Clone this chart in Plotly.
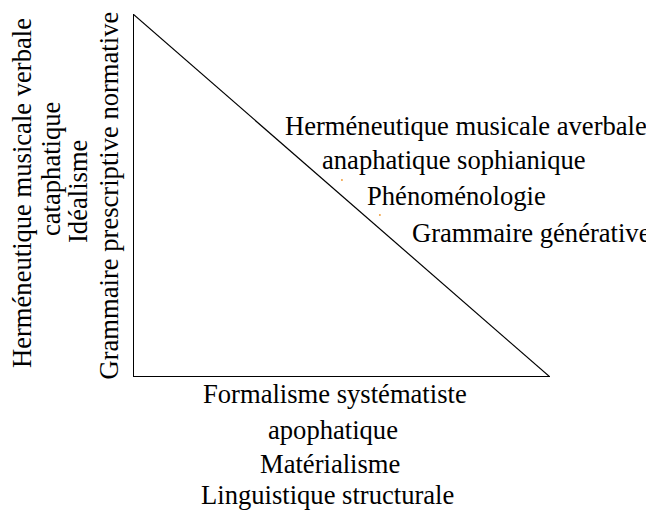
import plotly.graph_objects as go

# Triangle outline in unit coordinates (vertical + horizontal sides, then hypotenuse)
edge_x = [0, 0, 1]
edge_y = [1, 0, 0]
diag_x = [0, 1]
diag_y = [1, 0]

# Tiny orange specks visible near the hypotenuse
dot_x = [0.501, 0.592]
dot_y = [0.543, 0.446]

left_labels = ["Herméneutique musicale verbale", "cataphatique", "Idéalisme",
               "Grammaire prescriptive normative"]
right_labels = ["Herméneutique musicale averbale", "anaphatique sophianique",
                "Phénoménologie", "Grammaire générative"]
bottom_labels = ["Formalisme systématiste", "apophatique", "Matérialisme",
                 "Linguistique structurale"]

OFF = 8  # page body margin in the browser
W, H = 654, 510
L, R, T, B = 133 - OFF, 550 - OFF, 14 - OFF, 377 - OFF
FONT = dict(family="Liberation Serif", size=26.6, color="black")


def px(x):
    return (x - OFF - L) / (R - L)


def py(y):
    return (B - (y - OFF)) / (B - T)


# pixel centres of each text line in the reference (layout)
left_pos = [(22, 193), (51, 169), (78, 192), (108, 195.5)]
right_pos = [(466, 126), (454, 159.5), (456, 196), (531, 233)]
bottom_pos = [(335, 394), (333, 430), (330, 464), (327, 495)]

fig = go.Figure()
fig.add_trace(go.Scatter(x=edge_x, y=edge_y, mode="lines",
                         line=dict(color="black", width=2), cliponaxis=False,
                         hoverinfo="skip", showlegend=False))
fig.add_trace(go.Scatter(x=diag_x, y=diag_y, mode="lines",
                         line=dict(color="black", width=1.2), cliponaxis=False,
                         hoverinfo="skip", showlegend=False))
fig.add_trace(go.Scatter(x=dot_x, y=dot_y, mode="markers",
                         marker=dict(color="#f0a040", size=2), cliponaxis=False,
                         hoverinfo="skip", showlegend=False))

annots = []
for txt, (x, y) in zip(left_labels, left_pos):
    annots.append(dict(text=txt, x=px(x), y=py(y), xref="paper", yref="paper",
                       xanchor="center", yanchor="middle", textangle=-90,
                       showarrow=False, font=dict(FONT)))
for txt, (x, y) in zip(right_labels + bottom_labels, right_pos + bottom_pos):
    annots.append(dict(text=txt, x=px(x), y=py(y), xref="paper", yref="paper",
                       xanchor="center", yanchor="middle",
                       showarrow=False, font=dict(FONT)))

fig.update_layout(
    width=W - OFF, height=H - OFF,
    margin=dict(l=L, r=W - OFF - R, t=T, b=H - OFF - B),
    paper_bgcolor="white", plot_bgcolor="white",
    xaxis=dict(range=[0, 1], visible=False, fixedrange=True),
    yaxis=dict(range=[0, 1], visible=False, fixedrange=True),
    annotations=annots,
    showlegend=False,
)

fig.write_html("out.html", config={"displayModeBar": False})
